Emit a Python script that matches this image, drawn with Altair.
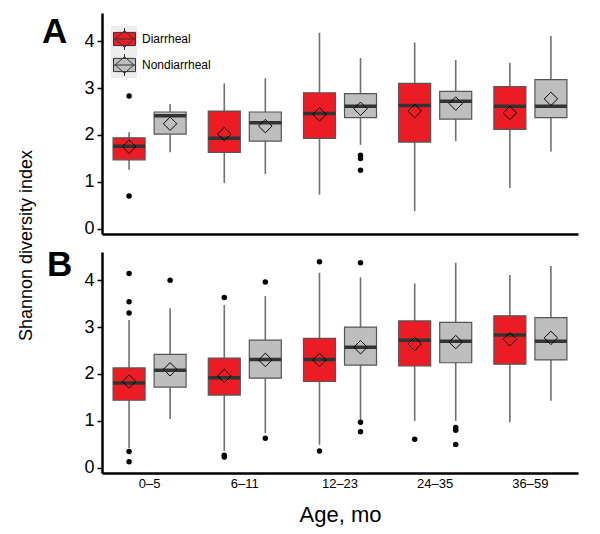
import altair as alt
import pandas as pd

ages = ["0–5", "6–11", "12–23", "24–35", "36–59"]
groups = ["Diarrheal", "Nondiarrheal"]
colors = ["#EC1C24", "#BEBEBE"]

# Box statistics, order: for each age group -> Diarrheal, Nondiarrheal
A_lower = [1.26, 1.63, 0.98, 1.17, 0.73, 1.79, 0.38, 1.87, 0.87, 1.65]
A_q1 = [1.47, 2.02, 1.63, 1.87, 1.93, 2.37, 1.85, 2.34, 2.12, 2.37]
A_median = [1.76, 2.41, 1.93, 2.26, 2.46, 2.61, 2.63, 2.72, 2.61, 2.61]
A_q3 = [1.94, 2.49, 2.51, 2.49, 2.90, 2.88, 3.10, 2.93, 3.03, 3.18]
A_upper = [2.06, 2.66, 3.10, 3.21, 4.18, 3.64, 3.97, 3.60, 3.54, 4.11]
A_mean = [1.75, 2.24, 2.02, 2.19, 2.44, 2.56, 2.51, 2.67, 2.47, 2.77]

A_out_age = ["0–5", "0–5", "12–23", "12–23", "12–23"]
A_out_group = ["Diarrheal", "Diarrheal", "Nondiarrheal", "Nondiarrheal", "Nondiarrheal"]
A_out_value = [2.83, 0.70, 1.57, 1.50, 1.25]

B_lower = [0.42, 1.04, 0.36, 0.74, 0.49, 1.02, 1.00, 1.00, 0.97, 1.43]
B_q1 = [1.44, 1.72, 1.55, 1.91, 1.84, 2.19, 2.17, 2.24, 2.21, 2.30]
B_median = [1.81, 2.08, 1.92, 2.31, 2.31, 2.57, 2.72, 2.70, 2.83, 2.70]
B_q3 = [2.13, 2.42, 2.34, 2.72, 2.76, 3.00, 3.13, 3.10, 3.24, 3.20]
B_upper = [3.15, 3.40, 3.47, 3.66, 4.16, 4.06, 3.93, 4.37, 4.11, 4.30]
B_mean = [1.84, 2.10, 1.96, 2.30, 2.30, 2.57, 2.64, 2.68, 2.74, 2.77]

B_out_age = ["0–5"] * 5 + ["0–5"] + ["6–11"] * 3 + ["6–11"] * 2 + ["12–23"] * 2 + ["12–23"] * 3 + ["24–35"] + ["24–35"] * 3
B_out_group = (["Diarrheal"] * 5 + ["Nondiarrheal"] + ["Diarrheal"] * 3 + ["Nondiarrheal"] * 2
               + ["Diarrheal"] * 2 + ["Nondiarrheal"] * 3 + ["Diarrheal"] + ["Nondiarrheal"] * 3)
B_out_value = [4.14, 3.54, 3.30, 0.35, 0.13, 4.00, 3.63, 0.27, 0.23, 3.96, 0.63,
               4.39, 0.36, 4.37, 0.97, 0.77, 0.61, 0.86, 0.80, 0.50]

FONT = "Liberation Sans"
PW, PH = 476, 221
bg_keys = [g + " key" for g in groups]


def box_df(lower, q1, med, q3, upper, mean):
    rows = []
    i = 0
    for a in ages:
        for k, g in enumerate(groups):
            rows.append(dict(age=a, group=g, key=bg_keys[k], lower=lower[i], q1=q1[i],
                             median=med[i], q3=q3[i], upper=upper[i], mean=mean[i]))
            i += 1
    return pd.DataFrame(rows)


def out_df(a, g, v):
    return pd.DataFrame({"age": a, "group": g, "value": v})


legend_path = ("M-1,-0.6H1V0.6H-1Z M-0.85,0L0,-0.75L0.85,0L0,0.75Z "
               "M0,-1V-0.6 M0,0.6V1 M-1,0H1")


def panel(bdf, odf, letter, letter_x, letter_y, bottom, with_legend, with_ytitle):
    if bottom:
        xaxis = alt.Axis(title="Age, mo", labelFontSize=13, labelPadding=4, ticks=False,
                         labelAngle=0, titleFontSize=22, titleFontWeight="normal",
                         titlePadding=14, labelColor="black", titleColor="black",
                         domainColor="black", domainWidth=2.5, labelFont=FONT, titleFont=FONT)
    else:
        xaxis = alt.Axis(title=None, labels=False, ticks=False,
                         domainColor="black", domainWidth=2.5)
    x = alt.X("age:N", sort=ages,
              scale=alt.Scale(domain=ages, paddingInner=0, paddingOuter=0),
              axis=xaxis)
    xo = alt.XOffset("group:N", sort=groups,
                     scale=alt.Scale(domain=groups, paddingInner=0, paddingOuter=0.16))
    yscale = alt.Scale(domain=[-0.11, 4.6], nice=False, zero=False)
    common_y = dict(values=[0, 1, 2, 3, 4], labelFontSize=18, labelFont=FONT,
                    labelColor="black", labelPadding=3, tickSize=5, tickWidth=1.5,
                    tickColor="black", domainColor="black", domainWidth=2.5, grid=False)
    if with_ytitle:
        yaxis = alt.Axis(title="Shannon diversity index",
                         titleFontSize=18, titleFontWeight="normal", titleFont=FONT,
                         titleX=-76, titleY=232, titleAngle=-90, titleAlign="center",
                         titleBaseline="middle", titleColor="black", **common_y)
    else:
        yaxis = alt.Axis(title=None, **common_y)

    base = alt.Chart(bdf)
    whisk = base.mark_rule(color="#707070", strokeWidth=1.6).encode(
        x=x, xOffset=xo,
        y=alt.Y("lower:Q", scale=yscale, axis=yaxis), y2="upper:Q")

    if with_legend:
        leg = alt.Legend(title=None, orient="none", legendX=11, legendY=14.5,
                         symbolType=legend_path, symbolSize=484,
                         symbolStrokeColor="#333333", symbolStrokeWidth=1,
                         symbolOpacity=1, labelFontSize=12, labelFont=FONT,
                         labelColor="black", labelOffset=6, rowPadding=-1,
                         padding=0, zindex=2)
    else:
        leg = None
    fill = alt.Fill("group:N", sort=groups,
                    scale=alt.Scale(domain=groups, range=colors), legend=leg)
    boxes = base.mark_bar(width=32, stroke="#555555", strokeWidth=1.2, opacity=1).encode(
        x=x, xOffset=xo, y="q1:Q", y2="q3:Q", fill=fill)
    med = base.mark_tick(thickness=3.5, size=32, color="#333333", opacity=1).encode(
        x=x, xOffset=xo, y="median:Q")
    mean = base.mark_point(shape="diamond", size=180, color="black", strokeWidth=1,
                           filled=False, opacity=1).encode(
        x=x, xOffset=xo, y="mean:Q")
    outl = alt.Chart(odf).mark_circle(size=30, color="black", opacity=1).encode(
        x=x, xOffset=xo, y="value:Q")
    lab = alt.Chart(pd.DataFrame({"t": [letter]})).mark_text(
        font=FONT, fontSize=35, fontWeight="bold", align="left", baseline="alphabetic",
        color="black").encode(text="t:N", x=alt.value(letter_x), y=alt.value(letter_y))

    layers = [whisk, boxes, med, mean, outl, lab]
    if with_legend:
        bg = base.transform_filter("false").mark_point(
            filled=True, opacity=1, color="#EDEDED", fill="#EDEDED", stroke="#EDEDED").encode(
            x=x, xOffset=xo, y="mean:Q",
            shape=alt.Shape("key:N", sort=bg_keys,
                            scale=alt.Scale(domain=bg_keys, range=["square", "square"]),
                            legend=alt.Legend(title=None, orient="none", legendX=9,
                                              legendY=13, symbolType="square",
                                              symbolSize=676, symbolFillColor="#EDEDED",
                                              symbolStrokeColor="#EDEDED", symbolOpacity=1,
                                              symbolStrokeWidth=0, labelExpr="''",
                                              rowPadding=0, padding=0, zindex=1)))
        layers = [bg] + layers
    return alt.layer(*layers).properties(width=PW, height=PH)


pA = panel(box_df(A_lower, A_q1, A_median, A_q3, A_upper, A_mean),
           out_df(A_out_age, A_out_group, A_out_value), "A", -60, 30, False, True, True)
pB = panel(box_df(B_lower, B_q1, B_median, B_q3, B_upper, B_mean),
           out_df(B_out_age, B_out_group, B_out_value), "B", -55, 24, True, False, False)

chart = alt.vconcat(pA, pB, spacing=18, bounds="flush").resolve_scale(
    fill="independent", shape="independent", x="independent", y="independent"
).properties(
    padding={"left": 9, "top": 5, "right": 5, "bottom": 5}
).configure_view(stroke=None).configure_axis(grid=False)

chart.save("out.html", embed_options={"renderer": "svg", "actions": False})
